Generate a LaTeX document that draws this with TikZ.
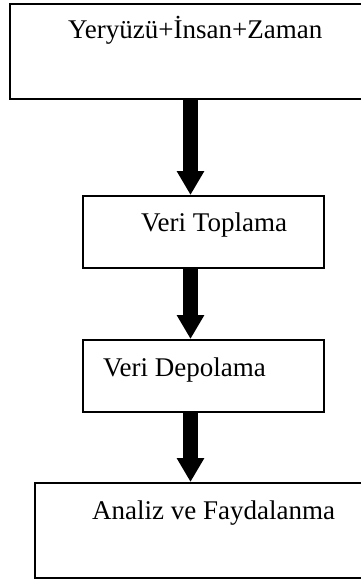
\documentclass[tikz,border=0pt]{standalone}
\usepackage{fontspec}
\setmainfont{Liberation Serif}
\usetikzlibrary{arrows.meta, calc}

\begin{document}
\begin{tikzpicture}[x=1pt, y=-1pt,
    stage/.style={rectangle, draw=black, line width=1.6pt, inner sep=0pt, anchor=north west},
    stagetxt/.style={anchor=base west, inner sep=0pt, font=\fontsize{27}{31}\selectfont},
    bigarrow/.style={-{Triangle[length=24pt, width=26pt]}, line width=15pt, black},
]
    \useasboundingbox (0,0) rectangle (361,579);

    % Boxes (top to bottom)
    \node[stage, minimum width=359pt, minimum height=95pt] (world) at (9,3) {};
    \node[stage, minimum width=241pt, minimum height=72pt] (collect) at (82,195) {};
    \node[stage, minimum width=241pt, minimum height=72pt] (store) at (82,339) {};
    \node[stage, minimum width=334pt, minimum height=95pt] (use) at (34,482) {};

    % Texts
    \node[stagetxt] (worldtxt) at ($(world.north west)+(59,35)$) {Yeryüzü+İnsan+Zaman};
    \node[stagetxt] (collecttxt) at ($(collect.north west)+(59,36)$) {Veri Toplama};
    \node[stagetxt] (storetxt) at ($(store.north west)+(21,37)$) {Veri Depolama};
    \node[stagetxt] (usetxt) at ($(use.north west)+(58,37)$) {Analiz ve Faydalanma};

    % Arrows
    \coordinate (axis) at (190.5,0);
    \draw[bigarrow] (world.south -| axis) -- (collect.north -| axis);
    \draw[bigarrow] (collect.south -| axis) -- (store.north -| axis);
    \draw[bigarrow] (store.south -| axis) -- (use.north -| axis);
\end{tikzpicture}
\end{document}
